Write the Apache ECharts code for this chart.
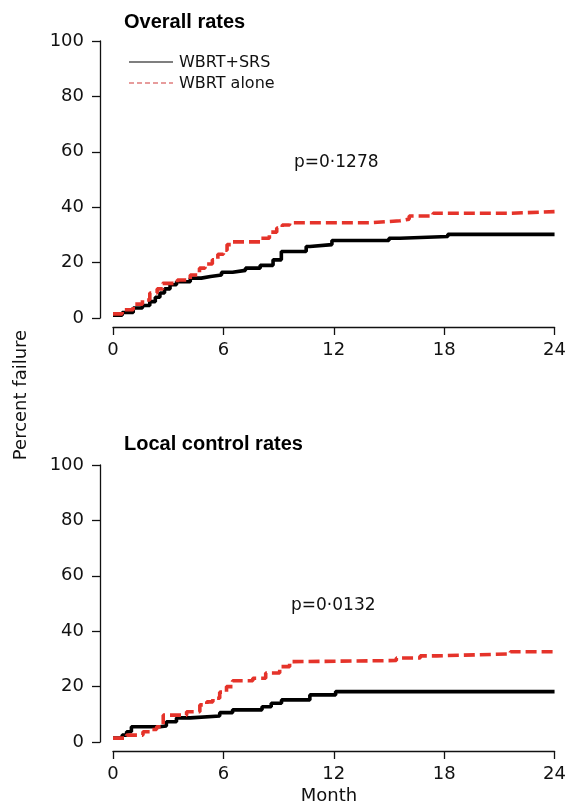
<!DOCTYPE html>
<html>
<head>
<meta charset="utf-8">
<script src="https://cdn.jsdelivr.net/npm/echarts@6/dist/echarts.min.js"></script>
<style>
    html, body { margin: 0; padding: 0; background: #fff; }
    #chart { width: 569px; height: 805px; }
</style>
</head>
<body>
<div id="chart"></div>
<script>
(function (window) {
    'use strict';

    // overall rates, step points [month, percent]
    var overallSrsMonths = [0, 0.5, 1.1, 1.6, 2.0, 2.3, 2.55, 2.8, 3.1, 3.45, 4.2, 4.8, 5.3, 5.9, 6.5, 7.2, 8.0, 8.7, 9.15, 10.5, 10.7, 11.9, 15.0, 15.6, 18.2, 24];
    var overallSrsValues = [1, 2, 3.6, 4.5, 5.9, 7.5, 9, 10.5, 12, 13.1, 14.4, 15, 15.5, 16.5, 17.2, 18, 19, 21, 24, 25.8, 26.5, 28, 28.8, 29.4, 30.2, 30.2];
    var overallAloneMonths = [0, 0.5, 1.1, 1.6, 2.0, 2.4, 2.7, 3.5, 4.2, 4.7, 5.0, 5.4, 5.7, 6.0, 6.2, 6.5, 8.0, 8.5, 8.9, 9.2, 9.6, 14.0, 15.6, 16.1, 17.4, 21.6, 24];
    var overallAloneValues = [1.5, 3, 5, 6.5, 9, 10.5, 12.5, 13.7, 15.5, 18, 19.5, 21, 23, 24.5, 26.5, 27.5, 28.8, 31, 32.5, 33.6, 34.4, 35.1, 35.7, 36.8, 37.8, 38.4, 38.4];

    // local control rates
    var localSrsMonths = [0, 0.5, 0.74, 1.0, 2.55, 2.9, 3.45, 4.2, 5.8, 6.5, 8.1, 8.6, 9.16, 10.7, 12.1, 24];
    var localSrsValues = [1.4, 2.5, 3.7, 5.5, 5.8, 7.3, 8.7, 9.4, 10.6, 11.6, 12.7, 14, 15.2, 17, 18.2, 18.2];
    var localAloneMonths = [0, 0.74, 1.63, 2.0, 2.37, 2.73, 4.0, 4.72, 5.1, 5.43, 5.8, 6.17, 6.5, 7.6, 8.3, 9.06, 9.6, 9.8, 15.4, 16.7, 17.6, 21.6, 24];
    var localAloneValues = [1.4, 2.5, 3.7, 4.5, 5.5, 9.7, 10.9, 13.4, 14.5, 15.8, 18, 20, 22.1, 23, 24.9, 27.2, 29, 29.4, 30.3, 31.1, 31.8, 32.6, 32.6];

    var seriesNames = ['WBRT+SRS', 'WBRT alone'];
    var panelTitles = ['Overall rates', 'Local control rates'];
    var pValues = ['p=0\u00b71278', 'p=0\u00b70132'];
    var monthTicks = [0, 6, 12, 18, 24];
    var percentTicks = [0, 20, 40, 60, 80, 100];

    var font = 'DejaVu Sans';
    var black = '#111111';
    var red = '#e5332a';

    function pairs(xs, ys) {
        var out = [];
        for (var i = 0; i < xs.length; i++) {
            out.push([xs[i], ys[i]]);
        }
        return out;
    }

    function xAxisFor(idx) {
        return {
            gridIndex: idx,
            type: 'value',
            min: monthTicks[0],
            max: monthTicks[monthTicks.length - 1],
            interval: monthTicks[1] - monthTicks[0],
            offset: 9,
            axisLine: { show: true, onZero: false, lineStyle: { color: black, width: 1.3 } },
            axisTick: { show: true, length: 8, lineStyle: { color: black, width: 1.3 } },
            axisLabel: { color: black, fontFamily: font, fontSize: 18, margin: 14 },
            splitLine: { show: false }
        };
    }

    function yAxisFor(idx) {
        return {
            gridIndex: idx,
            type: 'value',
            min: percentTicks[0],
            max: percentTicks[percentTicks.length - 1],
            interval: percentTicks[1] - percentTicks[0],
            offset: 13,
            axisLine: { show: true, onZero: false, lineStyle: { color: black, width: 1.3 } },
            axisTick: { show: true, length: 8, lineStyle: { color: black, width: 1.3 } },
            axisLabel: { color: black, fontFamily: font, fontSize: 18, margin: 16 },
            splitLine: { show: false }
        };
    }

    function stepSeries(name, idx, data, isAlone) {
        return {
            name: name,
            type: 'line',
            step: 'end',
            symbol: 'none',
            xAxisIndex: idx,
            yAxisIndex: idx,
            data: data,
            z: isAlone ? 3 : 2,
            lineStyle: {
                color: isAlone ? red : '#000',
                width: 3.6,
                type: isAlone ? [11, 5] : 'solid'
            }
        };
    }

    function legendLine(y, color, dash) {
        return {
            type: 'line',
            shape: { x1: 129, y1: y, x2: 173, y2: y },
            style: { stroke: color, lineWidth: 1.2, lineDash: dash }
        };
    }

    function label(text, x, y, fontStr, extra) {
        var style = { text: text, fill: black, font: fontStr, verticalAlign: 'middle' };
        for (var k in extra) {
            style[k] = extra[k];
        }
        return { type: 'text', x: x, y: y, style: style };
    }

    var chart = echarts.init(document.getElementById('chart'), null, { renderer: 'canvas' });

    var option = {
        animation: false,
        backgroundColor: '#fff',
        grid: [
            { left: 113, right: 14, top: 41, height: 277, containLabel: false },
            { left: 113, right: 14, top: 465, height: 277, containLabel: false }
        ],
        xAxis: [xAxisFor(0), xAxisFor(1)],
        yAxis: [yAxisFor(0), yAxisFor(1)],
        series: [
            stepSeries(seriesNames[0], 0, pairs(overallSrsMonths, overallSrsValues), false),
            stepSeries(seriesNames[1], 0, pairs(overallAloneMonths, overallAloneValues), true),
            stepSeries(seriesNames[0], 1, pairs(localSrsMonths, localSrsValues), false),
            stepSeries(seriesNames[1], 1, pairs(localAloneMonths, localAloneValues), true)
        ],
        graphic: [
            label(panelTitles[0], 124, 22, 'bold 20px "Liberation Sans"', { fill: '#000' }),
            label(panelTitles[1], 124, 444, 'bold 20px "Liberation Sans"', { fill: '#000' }),
            legendLine(62, '#000', null),
            legendLine(83, '#d03a3a', [5, 3]),
            label(seriesNames[0], 179, 63, '16px "DejaVu Sans"'),
            label(seriesNames[1], 179, 84, '16px "DejaVu Sans"'),
            label(pValues[0], 294, 163, '17px "DejaVu Sans"'),
            label(pValues[1], 291, 606, '17px "DejaVu Sans"'),
            {
                type: 'text', x: 21, y: 395, rotation: Math.PI / 2,
                style: { text: 'Percent failure', fill: black, font: '18px "DejaVu Sans"', align: 'center', verticalAlign: 'middle' }
            },
            label('Month', 329, 796, '18px "DejaVu Sans"', { align: 'center' })
        ]
    };

    chart.setOption(option);
})(window);
</script>
</body>
</html>
